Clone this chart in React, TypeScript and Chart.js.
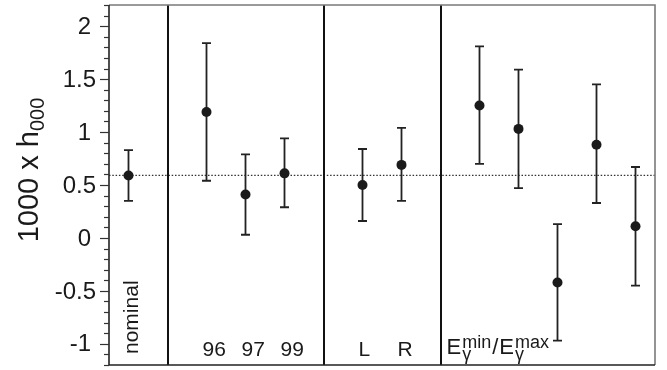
import React, { useEffect, useRef } from "react";
import { Chart, registerables } from "chart.js";

Chart.register(...registerables);

// Measurement slots along the x axis; "|" marks a separator between groups.
const slots = ["nominal", "|", "96", "97", "99", "|", "L", "R", "|", "E1", "E2", "E3", "E4", "E5"];
// Text shown under each slot (empty where nothing is printed).
const slotText = ["nominal", "", "96", "97", "99", "", "L", "R", "", "", "", "", "", ""];

// 1000 x h000 central values and error-bar limits.
const values = [0.59, null, 1.19, 0.41, 0.61, null, 0.5, 0.69, null, 1.25, 1.03, -0.42, 0.88, 0.11];
const upper = [0.83, null, 1.84, 0.79, 0.94, null, 0.84, 1.04, null, 1.81, 1.59, 0.13, 1.45, 0.67];
const lower = [0.35, null, 0.54, 0.03, 0.29, null, 0.16, 0.35, null, 0.7, 0.47, -0.97, 0.33, -0.45];

// Reference level (the nominal result) drawn as a dotted line.
const reference = 0.59;

// Y axis range and tick labels.
const yMin = -1.2;
const yMax = 2.2;
const majorTicks = [-1, -0.5, 0, 0.5, 1, 1.5, 2];
const majorTickLabels = ["-1", "-0.5", "0", "0.5", "1", "1.5", "2"];
const minorStep = 0.1;

const FONT = '"Liberation Sans", Arial, Helvetica, sans-serif';
const INK = "#1a1a1a";

const decorations = {
  id: "decorations",
  beforeDatasetsDraw(chart: any) {
    const { ctx, chartArea: a, scales } = chart;
    const xs = scales.x;
    const ys = scales.y;
    ctx.save();

    // dotted reference line
    const yr = ys.getPixelForValue(reference);
    ctx.strokeStyle = "#333";
    ctx.lineWidth = 1.2;
    ctx.setLineDash([1.5, 1.8]);
    ctx.beginPath();
    ctx.moveTo(a.left, yr);
    ctx.lineTo(a.right, yr);
    ctx.stroke();
    ctx.setLineDash([]);

    // group separators
    ctx.strokeStyle = "#111";
    ctx.lineWidth = 2;
    slots.forEach((s, i) => {
      if (s !== "|") return;
      const x = Math.round(xs.getPixelForValue(i));
      ctx.beginPath();
      ctx.moveTo(x, a.top);
      ctx.lineTo(x, a.bottom);
      ctx.stroke();
    });

    // error bars
    ctx.strokeStyle = "#222";
    ctx.lineWidth = 1.8;
    const cap = 4.5;
    values.forEach((v, i) => {
      if (v === null) return;
      const x = xs.getPixelForValue(i);
      const yu = ys.getPixelForValue(upper[i] as number);
      const yl = ys.getPixelForValue(lower[i] as number);
      ctx.beginPath();
      ctx.moveTo(x, yu);
      ctx.lineTo(x, yl);
      ctx.moveTo(x - cap, yu);
      ctx.lineTo(x + cap, yu);
      ctx.moveTo(x - cap, yl);
      ctx.lineTo(x + cap, yl);
      ctx.stroke();
    });
    ctx.restore();
  },
  afterDraw(chart: any) {
    const { ctx, chartArea: a, scales } = chart;
    const xs = scales.x;
    const ys = scales.y;
    ctx.save();

    // frame
    ctx.lineWidth = 1.6;
    ctx.strokeStyle = "#7a7a7a";
    ctx.beginPath();
    ctx.moveTo(a.left, a.top);
    ctx.lineTo(a.right, a.top);
    ctx.lineTo(a.right, a.bottom);
    ctx.stroke();
    ctx.strokeStyle = "#222";
    ctx.beginPath();
    ctx.moveTo(a.right, a.bottom);
    ctx.lineTo(a.left, a.bottom);
    ctx.lineTo(a.left, a.top);
    ctx.stroke();

    // y ticks: minor every 0.1, major every 0.5
    ctx.strokeStyle = "#333";
    ctx.lineWidth = 1.2;
    const nMinor = Math.round((yMax - yMin) / minorStep);
    for (let k = 0; k <= nMinor; k++) {
      const v = yMin + k * minorStep;
      const y = Math.round(ys.getPixelForValue(v)) + 0.5;
      const isMajor = majorTicks.some((m) => Math.abs(m - v) < 1e-6);
      ctx.beginPath();
      ctx.moveTo(a.left - (isMajor ? 9 : 5), y);
      ctx.lineTo(a.left, y);
      ctx.stroke();
    }

    // y tick labels (decimal labels sit a little further right)
    ctx.fillStyle = INK;
    ctx.font = `24px ${FONT}`;
    ctx.textAlign = "right";
    ctx.textBaseline = "middle";
    majorTicks.forEach((m, i) => {
      const t = majorTickLabels[i];
      const right = t.includes(".") ? a.left - 13 : a.left - 18;
      ctx.fillText(t, right, ys.getPixelForValue(m) + 1);
    });

    // y axis title: 1000 x h with subscript 000
    const main = "1000 x h";
    const sub = "000";
    const mainFont = `29px ${FONT}`;
    const subFont = `20px ${FONT}`;
    ctx.font = mainFont;
    const wMain = ctx.measureText(main).width;
    ctx.font = subFont;
    const wSub = ctx.measureText(sub).width;
    const total = wMain + wSub;
    ctx.translate(38, 170);
    ctx.rotate(-Math.PI / 2);
    ctx.textAlign = "left";
    ctx.textBaseline = "alphabetic";
    ctx.font = mainFont;
    ctx.fillText(main, -total / 2, 0);
    ctx.font = subFont;
    ctx.fillText(sub, -total / 2 + wMain, 6);
    ctx.setTransform(1, 0, 0, 1, 0, 0);

    // slot labels along the bottom
    ctx.fillStyle = INK;
    slotText.forEach((t, i) => {
      if (!t) return;
      const x = xs.getPixelForValue(i);
      ctx.font = `21px ${FONT}`;
      ctx.textAlign = "left";
      ctx.textBaseline = "alphabetic";
      if (t === "nominal") {
        ctx.save();
        ctx.translate(x + 9, a.bottom - 11);
        ctx.rotate(-Math.PI / 2);
        ctx.fillText(t, 0, 0);
        ctx.restore();
      } else {
        ctx.fillText(t, x - 4, a.bottom - 9);
      }
    });

    // group label for the last block: E_γ^min / E_γ^max
    const lastSep = slots.lastIndexOf("|");
    let gx = xs.getPixelForValue(lastSep) + 6;
    const gy = a.bottom - 11;
    const big = `22px ${FONT}`;
    const small = `18px ${FONT}`;
    ctx.textAlign = "left";
    ctx.textBaseline = "alphabetic";
    const piece = (base: string, sb: string, sp: string) => {
      ctx.font = big;
      ctx.fillText(base, gx, gy);
      gx += ctx.measureText(base).width + 1;
      ctx.font = small;
      ctx.fillText(sb, gx, gy + 6);
      ctx.fillText(sp, gx, gy - 6);
      gx += Math.max(ctx.measureText(sb).width, ctx.measureText(sp).width) + 1;
    };
    piece("E", "γ", "min");
    ctx.font = big;
    ctx.fillText("/", gx, gy);
    gx += ctx.measureText("/").width + 1;
    piece("E", "γ", "max");

    ctx.restore();
  },
};

export default function App() {
  const ref = useRef<HTMLCanvasElement | null>(null);

  useEffect(() => {
    if (!ref.current) return;
    const chart = new Chart(ref.current, {
      type: "scatter",
      data: {
        labels: slots,
        datasets: [
          {
            data: values as any,
            backgroundColor: INK,
            borderColor: INK,
            pointRadius: 5,
            pointBorderWidth: 0,
            showLine: false,
          },
        ],
      },
      options: {
        responsive: false,
        animation: false,
        events: [],
        layout: { padding: { left: 109, top: 3, right: 12, bottom: 3 } },
        plugins: {
          legend: { display: false },
          tooltip: { enabled: false },
        },
        scales: {
          x: { type: "category", offset: true, display: false },
          y: { type: "linear", min: yMin, max: yMax, display: false },
        },
      },
      plugins: [decorations],
    });
    return () => chart.destroy();
  }, []);

  return (
    <div style={{ position: "absolute", left: 0, top: 0, width: 667, height: 370, background: "#fff" }}>
      <canvas ref={ref} width={667} height={370} />
    </div>
  );
}
